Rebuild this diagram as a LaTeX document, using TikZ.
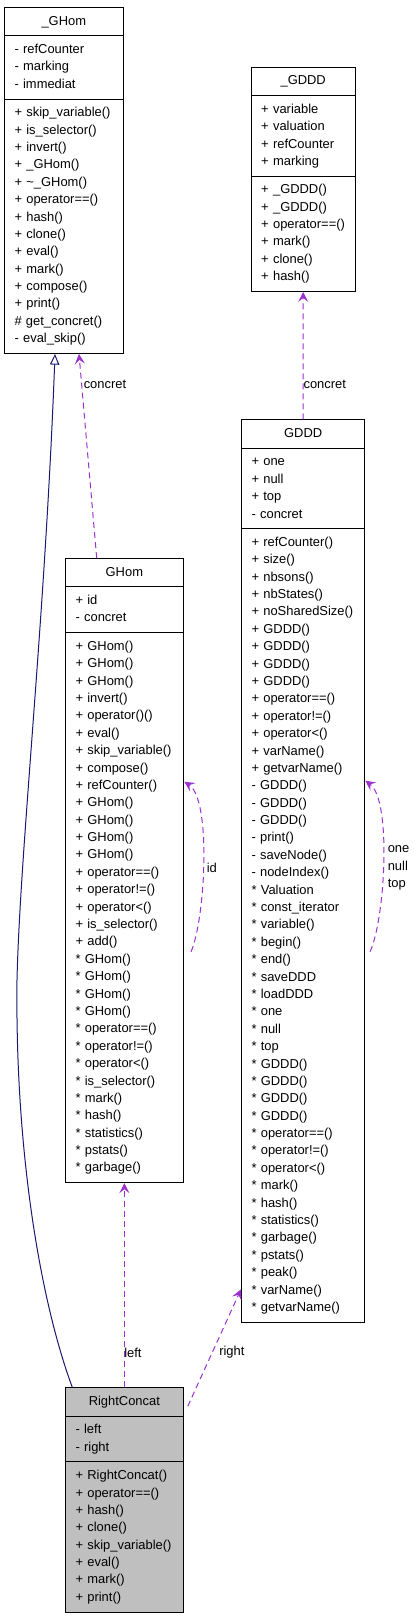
\documentclass[tikz,border=0pt]{standalone}
\usepackage{fontspec}
\setmainfont{Liberation Sans}
\usetikzlibrary{shapes.multipart,arrows.meta,calc}
\definecolor{doxpurple}{HTML}{9A32CD}
\definecolor{doxblue}{HTML}{191970}
\definecolor{doxgrey}{HTML}{BFBFBF}
\newcommand{\doxfont}{\fontsize{9.7pt}{13.04pt}\selectfont}
\tikzset{
  classbox/.style={rectangle split, rectangle split parts=3, draw=black, line width=0.75pt, fill=white, align=left, font=\doxfont, inner xsep=7.5pt, inner ysep=3.75pt, anchor=north west},
  uses/.style={doxpurple, line width=0.75pt, dash pattern=on 4.5pt off 3pt, -{Stealth[length=7.5pt,width=7.5pt,inset=3pt]}},
  inherit/.style={doxblue, line width=0.75pt, -{Triangle[open,length=8pt,width=7pt]}},
  lbl/.style={font=\doxfont, inner sep=0.75pt, anchor=west, align=left},
}

\begin{document}
\begin{tikzpicture}[x=0.75pt,y=-0.75pt]
  \useasboundingbox (0,0) rectangle (415,1616);
  % classes
  \node[classbox, text width=74pt] (ghomb) at (4,7) {\hfill\strut\_GHom\hfill\null
    \nodepart{two}\strut- refCounter\\- marking\\- immediat\strut
    \nodepart{three}\strut+ skip\_variable()\\+ is\_selector()\\+ invert()\\+ \_GHom()\\+ \textasciitilde\_GHom()\\+ operator==()\\+ hash()\\+ clone()\\+ eval()\\+ mark()\\+ compose()\\+ print()\\\# get\_concret()\\- eval\_skip()\strut};
  \node[classbox, text width=63pt] (gdddb) at (250.7,66.7) {\hfill\strut\_GDDD\hfill\null
    \nodepart{two}\strut+ variable\\+ valuation\\+ refCounter\\+ marking\strut
    \nodepart{three}\strut+ \_GDDD()\\+ \_GDDD()\\+ operator==()\\+ mark()\\+ clone()\\+ hash()\strut};
  \node[classbox, text width=77.5pt] (gddd) at (241,419.3) {\hfill\strut GDDD\hfill\null
    \nodepart{two}\strut+ one\\+ null\\+ top\\- concret\strut
    \nodepart{three}\strut+ refCounter()\\+ size()\\+ nbsons()\\+ nbStates()\\+ noSharedSize()\\+ GDDD()\\+ GDDD()\\+ GDDD()\\+ GDDD()\\+ operator==()\\+ operator!=()\\+ operator<()\\+ varName()\\+ getvarName()\\- GDDD()\\- GDDD()\\- GDDD()\\- print()\\- saveNode()\\- nodeIndex()\\{*} Valuation\\{*} const\_iterator\\{*} variable()\\{*} begin()\\{*} end()\\{*} saveDDD\\{*} loadDDD\\{*} one\\{*} null\\{*} top\\{*} GDDD()\\{*} GDDD()\\{*} GDDD()\\{*} GDDD()\\{*} operator==()\\{*} operator!=()\\{*} operator<()\\{*} mark()\\{*} hash()\\{*} statistics()\\{*} garbage()\\{*} pstats()\\{*} peak()\\{*} varName()\\{*} getvarName()\strut};
  \node[classbox, text width=73.3pt] (ghom) at (65,558) {\hfill\strut GHom\hfill\null
    \nodepart{two}\strut+ id\\- concret\strut
    \nodepart{three}\strut+ GHom()\\+ GHom()\\+ GHom()\\+ invert()\\+ operator()()\\+ eval()\\+ skip\_variable()\\+ compose()\\+ refCounter()\\+ GHom()\\+ GHom()\\+ GHom()\\+ GHom()\\+ operator==()\\+ operator!=()\\+ operator<()\\+ is\_selector()\\+ add()\\{*} GHom()\\{*} GHom()\\{*} GHom()\\{*} GHom()\\{*} operator==()\\{*} operator!=()\\{*} operator<()\\{*} is\_selector()\\{*} mark()\\{*} hash()\\{*} statistics()\\{*} pstats()\\{*} garbage()\strut};
  \node[classbox, text width=73.3pt, fill=doxgrey] (rc) at (65,1387.3) {\hfill\strut RightConcat\hfill\null
    \nodepart{two}\strut- left\\- right\strut
    \nodepart{three}\strut+ RightConcat()\\+ operator==()\\+ hash()\\+ clone()\\+ skip\_variable()\\+ eval()\\+ mark()\\+ print()\strut};
  % relations
  \draw[inherit] ($(rc.north west)+(7.3,0)$) .. controls (40,1300) and (15,1150) .. (17,980)
    .. controls (20,850) and (45,620) .. ($(ghomb.south west)+(51,0)$);
  \draw[uses] ($(ghom.north west)+(31.7,0)$) -- ($(ghomb.south west)+(75,0)$);
  \draw[uses] (gddd.north) -- (gdddb.south);
  \draw[uses] ($(ghom.north east)+(7.3,393.7)$) .. controls (205,920) and (212,800) .. ($(ghom.north east)+(0.6,223.7)$);
  \draw[uses] ($(gddd.north west)+(129,532.4)$) .. controls (385,920) and (392,800) .. ($(gddd.north east)+(0,361.4)$);
  \draw[uses] (rc.north) -- (ghom.south);
  \draw[uses] ($(rc.north east)+(4,19)$) -- ($(gddd.south west)+(0,-33.3)$);
  % labels
  \node[lbl] (lconcret) at (82.5,384.5) {concret};
  \node[lbl] (lconcretb) at (302.3,384.3) {concret};
  \node[lbl] (lid) at (205.5,868) {id};
  \node[lbl] (lonenulltop) at (386.5,868) {one\\null\\top};
  \node[lbl] (lleft) at (123,1352.7) {left};
  \node[lbl] (lright) at (218,1352) {right};
\end{tikzpicture}
\end{document}
